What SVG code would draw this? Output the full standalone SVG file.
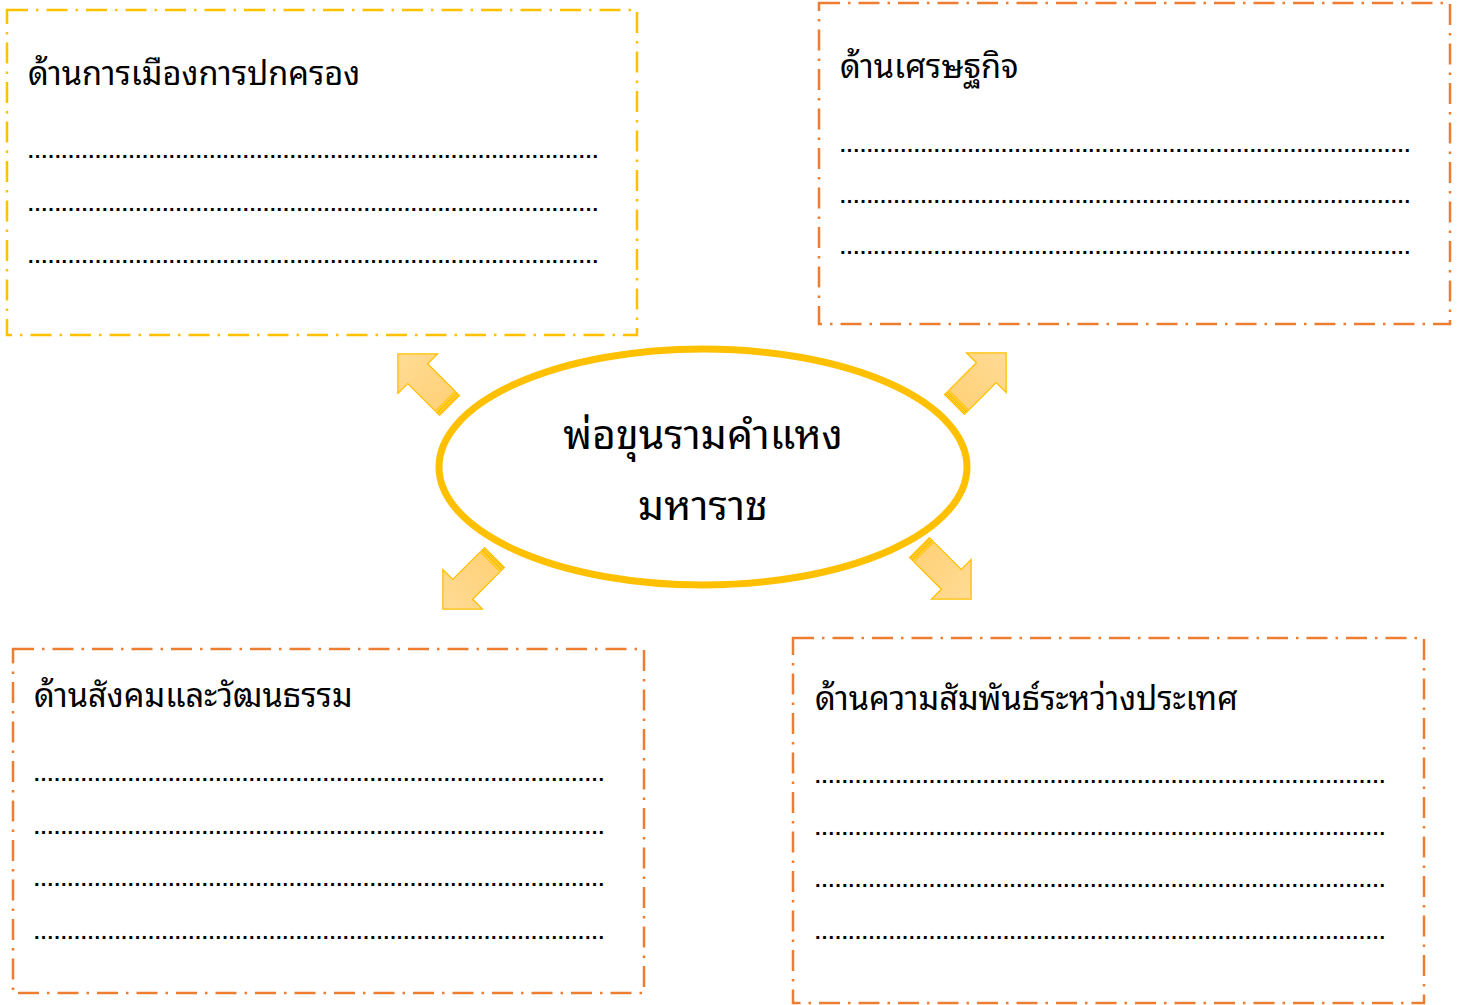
<svg xmlns="http://www.w3.org/2000/svg" width="1465" height="1005" viewBox="0 0 1465 1005">
<style>
.box{fill:#fff;stroke-width:2.5;stroke-dasharray:21 8 2.5 8}
.y{stroke:#FFC000}
.o{stroke:#ED7D31}
.t{font-family:"Noto Sans Thai Looped","Tahoma","Loma","Garuda","Noto Sans Thai","Noto Sans","DejaVu Sans",sans-serif;font-size:32.6px;fill:#000}
.c{font-family:"Noto Sans Thai Looped","Tahoma","Loma","Garuda","Noto Sans Thai","Noto Sans","DejaVu Sans",sans-serif;font-size:41px;fill:#000;text-anchor:middle}
.d{font-family:"Liberation Sans",sans-serif;font-size:20px;font-weight:bold;fill:#000}
.arr{fill:url(#g);stroke:#FFC000;stroke-width:1.3}
</style>
<defs>
<linearGradient id="g" x1="0" y1="0" x2="1" y2="0">
<stop offset="0" stop-color="#FFD27A"/>
<stop offset="1" stop-color="#FFDB95"/>
</linearGradient>
<g id="arrow">
<rect class="arr" x="0" y="-14" width="1.5" height="28"/>
<rect class="arr" x="3" y="-14" width="1.5" height="28"/>
<polygon class="arr" points="6,-14 45,-14 45,-28 73,0 45,28 45,14 6,14"/>
</g>
</defs>
<g id="node-politics">
<rect class="box y" x="7" y="10" width="630" height="325"/>
<text class="t" x="28" y="85">ด้านการเมืองการปกครอง</text>
<text class="d" x="28" y="158" textLength="570" lengthAdjust="spacing">.....................................................................................</text>
<text class="d" x="28" y="211" textLength="570" lengthAdjust="spacing">.....................................................................................</text>
<text class="d" x="28" y="263" textLength="570" lengthAdjust="spacing">.....................................................................................</text>
</g>
<g id="node-economy">
<rect class="box o" x="819" y="3" width="631" height="321"/>
<text class="t" x="840" y="78">ด้านเศรษฐกิจ</text>
<text class="d" x="840" y="152" textLength="570" lengthAdjust="spacing">.....................................................................................</text>
<text class="d" x="840" y="203" textLength="570" lengthAdjust="spacing">.....................................................................................</text>
<text class="d" x="840" y="254" textLength="570" lengthAdjust="spacing">.....................................................................................</text>
</g>
<g id="node-society">
<rect class="box o" x="13" y="649" width="631" height="344"/>
<text class="t" x="34" y="707">ด้านสังคมและวัฒนธรรม</text>
<text class="d" x="34" y="781" textLength="570" lengthAdjust="spacing">.....................................................................................</text>
<text class="d" x="34" y="834" textLength="570" lengthAdjust="spacing">.....................................................................................</text>
<text class="d" x="34" y="886" textLength="570" lengthAdjust="spacing">.....................................................................................</text>
<text class="d" x="34" y="939" textLength="570" lengthAdjust="spacing">.....................................................................................</text>
</g>
<g id="node-foreign">
<rect class="box o" x="793" y="638" width="631" height="365"/>
<text class="t" x="815" y="710">ด้านความสัมพันธ์ระหว่างประเทศ</text>
<text class="d" x="815" y="783" textLength="570" lengthAdjust="spacing">.....................................................................................</text>
<text class="d" x="815" y="835" textLength="570" lengthAdjust="spacing">.....................................................................................</text>
<text class="d" x="815" y="887" textLength="570" lengthAdjust="spacing">.....................................................................................</text>
<text class="d" x="815" y="939" textLength="570" lengthAdjust="spacing">.....................................................................................</text>
</g>
<g id="node-center">
<ellipse cx="703" cy="467" rx="264" ry="118" fill="#fff" stroke="#FFC000" stroke-width="7"/>
<text class="c" x="703" y="449">พ่อขุนรามคำแหง</text>
<text class="c" x="703" y="520">มหาราช</text>
</g>
<g id="connectors">
<use href="#arrow" transform="translate(449.5,405.5) rotate(225)"/>
<use href="#arrow" transform="translate(954.5,404.5) rotate(-45)"/>
<use href="#arrow" transform="translate(494.5,557.5) rotate(135)"/>
<use href="#arrow" transform="translate(919.5,547.5) rotate(45)"/>
</g>
</svg>
